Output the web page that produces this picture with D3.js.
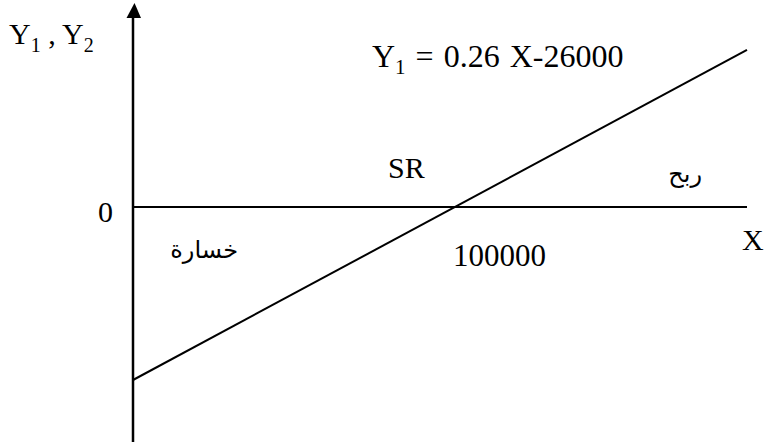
<!DOCTYPE html>
<html>
<head>
<meta charset="utf-8">
<script src="https://d3js.org/d3.v7.min.js"></script>
<style>
  body { margin: 0; background: #fff; }
  text { font-family: "Liberation Serif", "Times New Roman", serif; fill: #000; }
  .ar { font-family: "DejaVu Sans", sans-serif; }
</style>
</head>
<body>
<div id="chart"></div>
<script>
// line Y1 = 0.26 X - 26000, read at its two ends
var lineX = [0, 190700];
var lineY = [-26000, 23600];
var breakEven = 100000;
var zeroLabel = "0";

var width = 765, height = 444;

var svg = d3.select("#chart")
  .append("svg")
    .attr("width", width)
    .attr("height", height);

// scales: x=0 sits on the vertical axis, y=0 on the horizontal one
var x = d3.scaleLinear()
    .domain([0, 190700])
    .range([133, 747]);
var y = d3.scaleLinear()
    .domain([-26000, 0])
    .range([380, 207]);

// horizontal axis
svg.append("line")
    .attr("x1", x(0)).attr("x2", x(190700))
    .attr("y1", y(0)).attr("y2", y(0))
    .attr("stroke", "#000").attr("stroke-width", 2.2);

// vertical axis with arrow
var yTop = 16, yBottom = 442;
svg.append("line")
    .attr("x1", x(0)).attr("x2", x(0))
    .attr("y1", yBottom).attr("y2", yTop)
    .attr("stroke", "#000").attr("stroke-width", 2.5);
svg.append("path")
    .attr("d", "M" + (x(0) - 6.5) + "," + 18 + "L" + (x(0) + 1.5) + "," + 3 + "L" + (x(0) + 8) + "," + 18 + "Z")
    .attr("fill", "#000");

// the line
var pts = lineX.map(function(d, i) { return [d, lineY[i]]; });
svg.append("path")
    .datum(pts)
    .attr("fill", "none")
    .attr("stroke", "#000")
    .attr("stroke-width", 2)
    .attr("d", d3.line()
        .x(function(d) { return x(d[0]); })
        .y(function(d) { return y(d[1]); }));

// labels
var fs = 30;

var yl = svg.append("text").attr("x", 9).attr("y", 44).style("font-size", fs + "px");
yl.append("tspan").text("Y");
yl.append("tspan").attr("dy", 8).style("font-size", "20px").text("1");
yl.append("tspan").attr("dy", -8).text(" , Y");
yl.append("tspan").attr("dy", 8).style("font-size", "20px").text("2");

var eq = svg.append("text").attr("x", 372).attr("y", 67)
    .style("font-size", "32px")
    .style("word-spacing", "2px");
eq.append("tspan").text("Y");
eq.append("tspan").attr("dy", 7).style("font-size", "21px").text("1");
eq.append("tspan").attr("dy", -7).text(" = 0.26 X-26000");

svg.append("text")
    .attr("x", 113).attr("y", 222)
    .attr("text-anchor", "end")
    .style("font-size", fs + "px")
    .text(zeroLabel);

svg.append("text")
    .attr("x", x(breakEven) - 2).attr("y", 266)
    .style("font-size", "31px")
    .text(d3.format("d")(breakEven));

svg.append("text")
    .attr("x", 388).attr("y", 178)
    .style("font-size", fs + "px")
    .text("SR");

svg.append("text")
    .attr("x", 742).attr("y", 250)
    .style("font-size", fs + "px")
    .text("X");

// arabic labels, right edge given
svg.append("text")
    .attr("class", "ar")
    .attr("x", 702).attr("y", 182)
    .attr("text-anchor", "start")
    .attr("direction", "rtl")
    .style("font-size", "24px")
    .text("ربح");

svg.append("text")
    .attr("class", "ar")
    .attr("x", 238).attr("y", 258)
    .attr("text-anchor", "start")
    .attr("direction", "rtl")
    .style("font-size", "24px")
    .text("خسارة");
</script>
</body>
</html>
